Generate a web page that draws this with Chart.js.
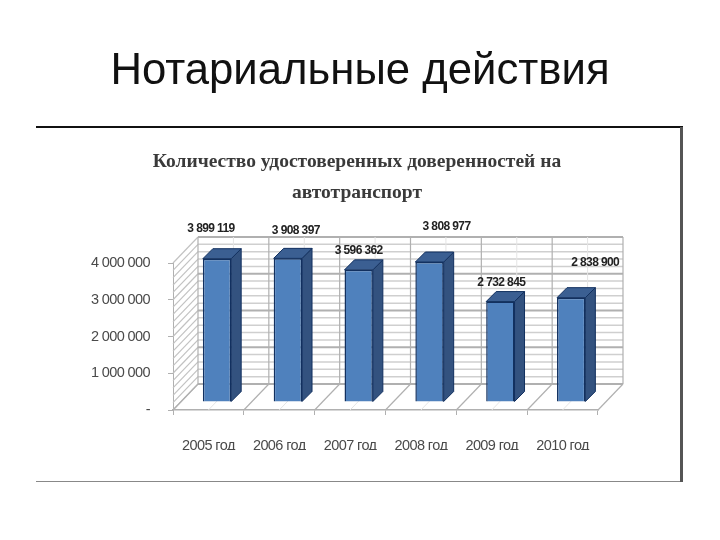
<!DOCTYPE html>
<html lang="ru">
<head>
<meta charset="utf-8">
<title>Нотариальные действия</title>
<script src="https://cdn.jsdelivr.net/npm/chart.js@4"></script>
<style>
  html, body { margin:0; padding:0; background:#fff; }
  #page { position:relative; width:720px; height:540px; overflow:hidden; }
  #page canvas { position:absolute; left:0; top:0; }
  .slide-title { position:absolute; left:0; width:720px; top:45px; text-align:center; font:43.7px/48px 'Liberation Sans', Arial, sans-serif; color:#111; }
  .chart-title { position:absolute; left:0; width:714px; top:145px; text-align:center; font:bold 19.5px/31px 'Liberation Serif', serif; color:#3a3a3a; }
</style>
</head>
<body>
<div id="page">
  <canvas id="chart" width="720" height="540"></canvas>
  <div class="slide-title">Нотариальные действия</div>
  <div class="chart-title">Количество удостоверенных доверенностей на<br>автотранспорт</div>
</div>
<script>
const categories = ['2005 год','2006 год','2007 год','2008 год','2009 год','2010 год']
const values = [3899119, 3908397, 3596362, 3808977, 2732845, 2838900]
const yTickLabels = ['-','1 000 000','2 000 000','3 000 000','4 000 000']

const C = {
  front:'#4f81bd', edge:'#12305f', side:'#33527f', top:'#3b5f92',
  major:'#b0b0b0', minor:'#cfcfcf', hatch:'#c2c2c2', faint:'#e4e4e4', text:'#4a4a4a', label:'#222',
}
const SANS = "'Liberation Sans', sans-serif"

// the 3D look: wall sits behind the axes plane, bars halfway in between
const WALL = {dx:25, dy:-26}
const BARS = {dx:8.6, dy:-8}
const DEPTH = 10
const MINOR_STEP = 200000
const labelNudge = [[-6,-30],[8,-28],[0,-19],[17,-35],[1,-19],[24,-35]]

const fmt = v => String(v).replace(/\B(?=(\d{3})+$)/g,' ')

function line(ctx, x1, y1, x2, y2, color, w) {
  ctx.strokeStyle = color; ctx.lineWidth = w
  ctx.beginPath(); ctx.moveTo(x1,y1); ctx.lineTo(x2,y2); ctx.stroke()
}

const box3d = {
  id:'box3d',
  beforeDraw(chart) {
    // the original labels are squeezed, no condensed font is installed
    chart.ctx.letterSpacing = '-0.6px'
  },
  beforeDatasetsDraw(chart) {
    const ctx = chart.ctx, a = chart.chartArea, y = chart.scales.y
    const step = a.width / categories.length
    ctx.save()
    // back wall and side wall rules
    for (let v = 0; v <= y.max; v += MINOR_STEP) {
      const py = y.getPixelForValue(v), major = v % 1000000 === 0
      line(ctx, a.left, py, a.left+WALL.dx, py+WALL.dy, C.hatch, 1.2)
      line(ctx, a.left+WALL.dx, py+WALL.dy, a.right+WALL.dx, py+WALL.dy, major ? C.major : C.minor, major ? 2 : 1.5)
    }
    for (let i = 0; i <= categories.length; i++) {
      const px = a.left + i*step + WALL.dx
      line(ctx, px, a.top+WALL.dy, px, a.bottom+WALL.dy, C.major, 1.2)
      line(ctx, px, a.bottom+WALL.dy, px-WALL.dx, a.bottom, C.major, 1.2)
      if (i < categories.length) {
        line(ctx, px+step/2, a.top+WALL.dy, px+step/2, a.bottom+WALL.dy, C.faint, 1)
        line(ctx, px+step/2, a.bottom+WALL.dy, px+step/2-WALL.dx, a.bottom, C.faint, 1)
      }
    }
    ctx.restore()
    // side and top faces of the bars, the library draws the front face
    ctx.save()
    ctx.translate(BARS.dx, BARS.dy)
    chart.getDatasetMeta(0).data.forEach(bar => {
      const l = bar.x-bar.width/2, r = bar.x+bar.width/2
      ctx.lineWidth = 1; ctx.strokeStyle = C.edge
      ctx.fillStyle = C.side
      ctx.beginPath(); ctx.moveTo(r,bar.y); ctx.lineTo(r+DEPTH,bar.y-DEPTH); ctx.lineTo(r+DEPTH,bar.base-DEPTH); ctx.lineTo(r,bar.base); ctx.closePath(); ctx.fill(); ctx.stroke()
      ctx.fillStyle = C.top
      ctx.beginPath(); ctx.moveTo(l,bar.y); ctx.lineTo(l+DEPTH,bar.y-DEPTH); ctx.lineTo(r+DEPTH,bar.y-DEPTH); ctx.lineTo(r,bar.y); ctx.closePath(); ctx.fill(); ctx.stroke()
    })
  },
  afterDatasetsDraw(chart) {
    const ctx = chart.ctx
    ctx.restore()
    // value labels
    ctx.save()
    ctx.font = `bold 12px ${SANS}`
    ctx.fillStyle = C.label
    ctx.textAlign = 'center'; ctx.textBaseline = 'middle'
    chart.getDatasetMeta(0).data.forEach((bar,i) => {
      ctx.fillText(fmt(values[i]), bar.x+BARS.dx+labelNudge[i][0], bar.y+BARS.dy+labelNudge[i][1])
    })
    ctx.restore()
  },
  afterDraw(chart) {
    // slide frame round the pasted picture
    const ctx = chart.ctx
    ctx.save()
    line(ctx, 36, 127, 683, 127, '#111', 2)
    line(ctx, 681.5, 127, 681.5, 482, '#555', 3)
    line(ctx, 36, 481.5, 680, 481.5, '#888', 1)
    ctx.restore()
  }
}

new Chart(document.getElementById('chart'), {
  type:'bar',
  data:{
    labels:categories,
    datasets:[{ data:values, backgroundColor:C.front, borderColor:C.edge, borderWidth:1.5, barPercentage:0.4, categoryPercentage:1 }]
  },
  options:{
    responsive:false, animation:false, devicePixelRatio:1,
    layout:{ padding:{left:0, right:122, top:263, bottom:90} },
    plugins:{ legend:{display:false}, title:{display:false}, tooltip:{enabled:false} },
    scales:{
      x:{
        grid:{ offset:true, drawOnChartArea:false, color:C.major, tickLength:5 },
        border:{ color:C.major, width:1.5 },
        ticks:{ color:C.text, font:{family:SANS,size:14.5}, padding:22, maxRotation:0, autoSkip:false },
        afterFit(s){ s.height = 40 }
      },
      y:{
        min:0, max:4000000,
        grid:{ drawOnChartArea:false, color:C.major, tickLength:5 },
        border:{ color:C.major, width:1 },
        ticks:{ stepSize:1000000, color:C.text, font:{family:SANS,size:14.5}, padding:18, callback:(v,i)=>yTickLabels[i] },
        afterFit(s){ s.width = 173 }
      }
    }
  },
  plugins:[box3d]
})
</script>
</body>
</html>
